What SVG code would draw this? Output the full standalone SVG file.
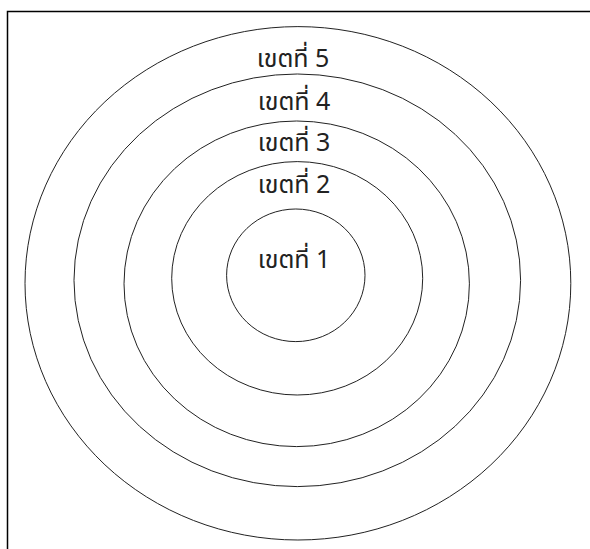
<svg xmlns="http://www.w3.org/2000/svg" width="590" height="549" viewBox="0 0 590 549">
<style>
.ring{fill:none;stroke:#222;stroke-width:1}
.lbl{font-family:"Noto Sans Thai","Noto Sans","DejaVu Sans",sans-serif;font-size:25px;fill:#222;text-anchor:middle}
</style>
<rect x="0" y="0" width="590" height="549" fill="#fff"/>
<rect x="7.5" y="11.5" width="600" height="560" fill="none" stroke="#000" stroke-width="1.5"/>
<g id="zone5"><ellipse class="ring" cx="297.9" cy="283.3" rx="272.9" ry="256.7"/><text class="lbl" x="293" y="67">เขตที่ 5</text></g>
<g id="zone4"><ellipse class="ring" cx="297.3" cy="280.3" rx="223.3" ry="206.3"/><text class="lbl" x="294" y="110">เขตที่ 4</text></g>
<g id="zone3"><ellipse class="ring" cx="296.7" cy="283.8" rx="172.7" ry="162.8"/><text class="lbl" x="294" y="151">เขตที่ 3</text></g>
<g id="zone2"><ellipse class="ring" cx="297.2" cy="278.3" rx="125.5" ry="116.7"/><text class="lbl" x="294" y="193">เขตที่ 2</text></g>
<g id="zone1"><ellipse class="ring" cx="295.8" cy="275.3" rx="69.2" ry="66.3"/><text class="lbl" x="294" y="268">เขตที่ 1</text></g>
<g id="connectors"/>
</svg>
